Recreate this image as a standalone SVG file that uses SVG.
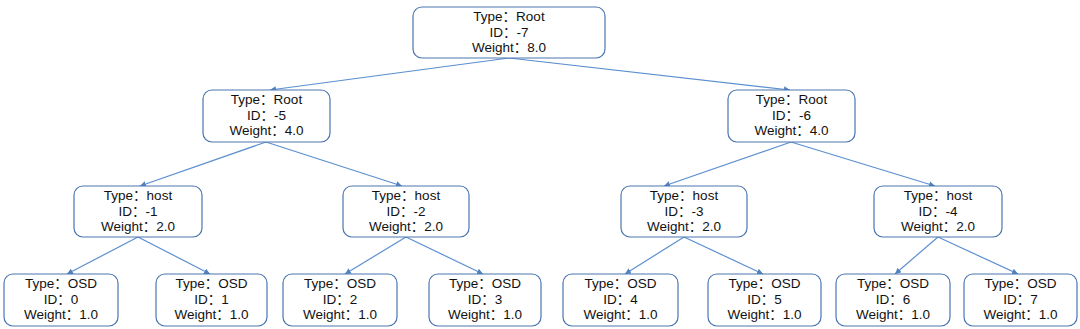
<svg xmlns="http://www.w3.org/2000/svg" width="1080" height="329" viewBox="0 0 1080 329">
<style>
.box{fill:#fff;stroke:#4a76b0;stroke-width:1.2}
.t{font-family:"Liberation Sans","Noto Sans CJK SC",sans-serif;font-size:13.5px;fill:#111;text-anchor:middle}
.c{stroke:#5b8fd0;stroke-width:1.2;fill:none;marker-end:url(#ah)}
</style>
<defs>
<marker id="ah" viewBox="0 0 10 10" refX="10" refY="5" markerWidth="6" markerHeight="6" orient="auto" markerUnits="userSpaceOnUse">
<path d="M0,0 L10,5 L0,10 z" fill="#4f81bd"/>
</marker>
</defs>
<rect width="1080" height="329" fill="#fff"/>
<g id="connectors">
<line class="c" x1="509" y1="58" x2="270" y2="90"/>
<line class="c" x1="509" y1="58" x2="790" y2="90"/>
<line class="c" x1="266" y1="142" x2="140" y2="186"/>
<line class="c" x1="266" y1="142" x2="402" y2="186"/>
<line class="c" x1="791" y1="142" x2="664" y2="186"/>
<line class="c" x1="791" y1="142" x2="935" y2="186"/>
<line class="c" x1="138" y1="237" x2="67" y2="274"/>
<line class="c" x1="138" y1="237" x2="210" y2="274"/>
<line class="c" x1="406" y1="237" x2="345" y2="274"/>
<line class="c" x1="406" y1="237" x2="483" y2="274"/>
<line class="c" x1="684" y1="237" x2="625" y2="274"/>
<line class="c" x1="684" y1="237" x2="763" y2="274"/>
<line class="c" x1="938" y1="237" x2="895" y2="274"/>
<line class="c" x1="938" y1="237" x2="1018" y2="274"/>
</g>
<g id="n-7"><rect class="box" x="413" y="7" width="192" height="51" rx="9"/><text class="t" x="509" y="21">Type：Root</text><text class="t" x="509" y="36.5">ID：-7</text><text class="t" x="509" y="52">Weight：8.0</text></g>
<g id="n-5"><rect class="box" x="203" y="90" width="127" height="52" rx="9"/><text class="t" x="266.5" y="104">Type：Root</text><text class="t" x="266.5" y="119.5">ID：-5</text><text class="t" x="266.5" y="135">Weight：4.0</text></g>
<g id="n-6"><rect class="box" x="728" y="90" width="127" height="52" rx="9"/><text class="t" x="791.5" y="104">Type：Root</text><text class="t" x="791.5" y="119.5">ID：-6</text><text class="t" x="791.5" y="135">Weight：4.0</text></g>
<g id="n-1"><rect class="box" x="74" y="186" width="128" height="51" rx="9"/><text class="t" x="138" y="200">Type：host</text><text class="t" x="138" y="215.5">ID：-1</text><text class="t" x="138" y="231">Weight：2.0</text></g>
<g id="n-2"><rect class="box" x="343" y="186" width="126" height="51" rx="9"/><text class="t" x="406" y="200">Type：host</text><text class="t" x="406" y="215.5">ID：-2</text><text class="t" x="406" y="231">Weight：2.0</text></g>
<g id="n-3"><rect class="box" x="621" y="186" width="126" height="51" rx="9"/><text class="t" x="684" y="200">Type：host</text><text class="t" x="684" y="215.5">ID：-3</text><text class="t" x="684" y="231">Weight：2.0</text></g>
<g id="n-4"><rect class="box" x="874" y="186" width="128" height="51" rx="9"/><text class="t" x="938" y="200">Type：host</text><text class="t" x="938" y="215.5">ID：-4</text><text class="t" x="938" y="231">Weight：2.0</text></g>
<g id="osd0"><rect class="box" x="4" y="274" width="114" height="52" rx="9"/><text class="t" x="61" y="288">Type：OSD</text><text class="t" x="61" y="303.5">ID：0</text><text class="t" x="61" y="319">Weight：1.0</text></g>
<g id="osd1"><rect class="box" x="156" y="274" width="111" height="52" rx="9"/><text class="t" x="211.5" y="288">Type：OSD</text><text class="t" x="211.5" y="303.5">ID：1</text><text class="t" x="211.5" y="319">Weight：1.0</text></g>
<g id="osd2"><rect class="box" x="283" y="274" width="114" height="52" rx="9"/><text class="t" x="340" y="288">Type：OSD</text><text class="t" x="340" y="303.5">ID：2</text><text class="t" x="340" y="319">Weight：1.0</text></g>
<g id="osd3"><rect class="box" x="429" y="274" width="112" height="52" rx="9"/><text class="t" x="485" y="288">Type：OSD</text><text class="t" x="485" y="303.5">ID：3</text><text class="t" x="485" y="319">Weight：1.0</text></g>
<g id="osd4"><rect class="box" x="563" y="274" width="115" height="52" rx="9"/><text class="t" x="620.5" y="288">Type：OSD</text><text class="t" x="620.5" y="303.5">ID：4</text><text class="t" x="620.5" y="319">Weight：1.0</text></g>
<g id="osd5"><rect class="box" x="708" y="274" width="113" height="52" rx="9"/><text class="t" x="764.5" y="288">Type：OSD</text><text class="t" x="764.5" y="303.5">ID：5</text><text class="t" x="764.5" y="319">Weight：1.0</text></g>
<g id="osd6"><rect class="box" x="836" y="274" width="114" height="52" rx="9"/><text class="t" x="893" y="288">Type：OSD</text><text class="t" x="893" y="303.5">ID：6</text><text class="t" x="893" y="319">Weight：1.0</text></g>
<g id="osd7"><rect class="box" x="964" y="274" width="113" height="52" rx="9"/><text class="t" x="1020.5" y="288">Type：OSD</text><text class="t" x="1020.5" y="303.5">ID：7</text><text class="t" x="1020.5" y="319">Weight：1.0</text></g>
</svg>
